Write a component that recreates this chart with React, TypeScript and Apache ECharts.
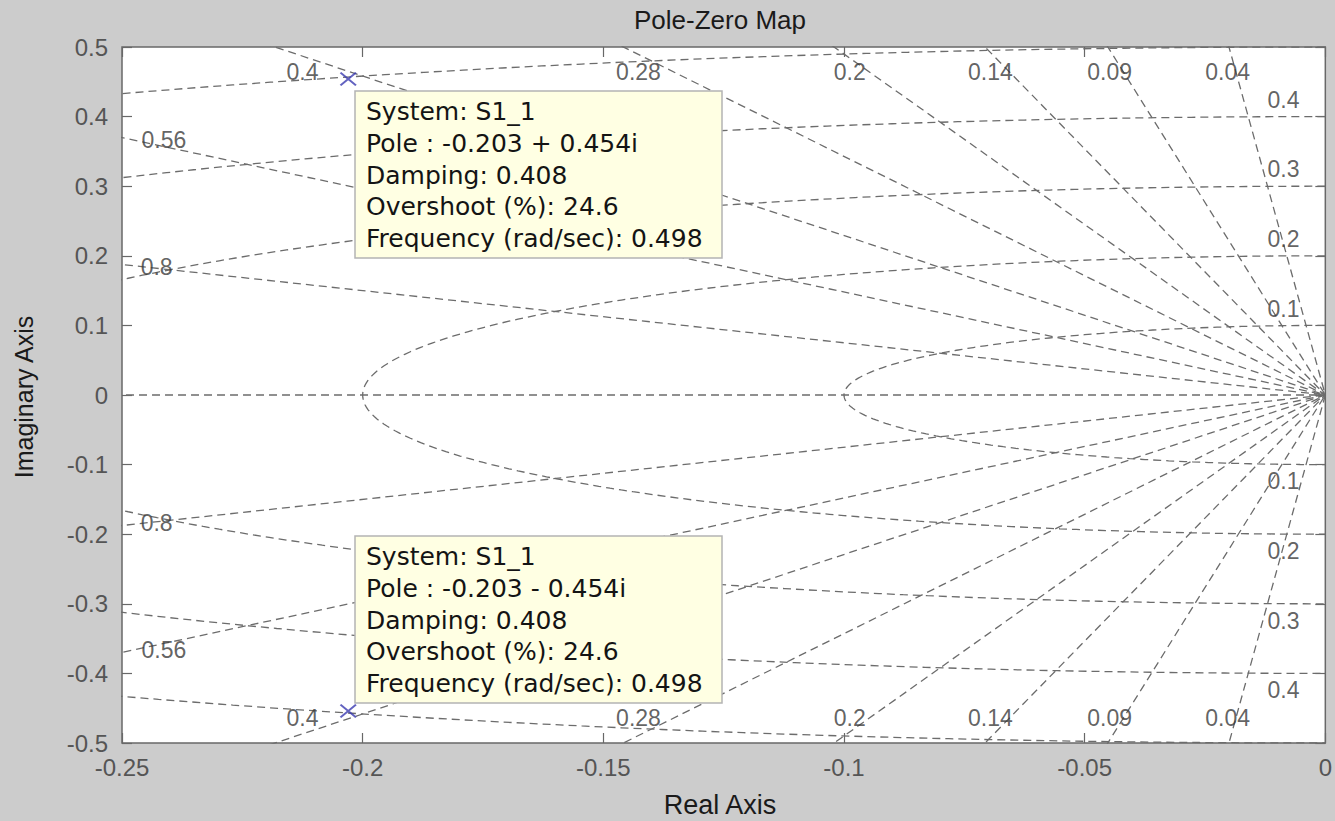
import React, { useEffect, useRef } from "react";
import * as echarts from "echarts";

// Axis ranges
const xRange = [-0.25, 0];
const xStep = 0.05;
const yRange = [-0.5, 0.5];
const yStep = 0.1;

// sgrid values
const dampingValues = [0.04, 0.09, 0.14, 0.2, 0.28, 0.4, 0.56, 0.8];
const wnValues = [0.1, 0.2, 0.3, 0.4, 0.5];

// Damping label placement (data coords, upper half; mirrored below)
const dampingLabelText = ["0.04", "0.09", "0.14", "0.2", "0.28", "0.4", "0.56", "0.8"];
const dampingLabelX = [-0.0203, -0.0448, -0.0696, -0.0988, -0.1427, -0.2125, -0.2413, -0.2428];
const dampingLabelY = [0.464, 0.464, 0.464, 0.464, 0.464, 0.464, 0.366, 0.184];

// Poles
const poleReal = [-0.203, -0.203];
const poleImag = [0.454, -0.454];

// Data tips
const tipUpper = [
  "System: S1_1",
  "Pole : -0.203 + 0.454i",
  "Damping: 0.408",
  "Overshoot (%): 24.6",
  "Frequency (rad/sec): 0.498",
];
const tipLower = [
  "System: S1_1",
  "Pole : -0.203 - 0.454i",
  "Damping: 0.408",
  "Overshoot (%): 24.6",
  "Frequency (rad/sec): 0.498",
];

const GRID_COLOR = "#6c6c6c";
const AXIS_COLOR = "#686868";

export default function App() {
  const ref = useRef<HTMLDivElement>(null);

  useEffect(() => {
    if (!ref.current) return;
    const chart = echarts.init(ref.current, undefined, { renderer: "svg" });

    const dashed = { color: GRID_COLOR, width: 1.3, type: [8, 5] as any };
    const lineBase = {
      type: "line" as const,
      showSymbol: false,
      symbol: "none",
      silent: true,
      clip: true,
      z: 2,
      lineStyle: dashed,
    };

    const series: any[] = [];

    // frequency circles (left half plane)
    wnValues.forEach((wn) => {
      const pts: number[][] = [];
      for (let d = 90; d <= 270; d += 1) {
        const t = (d * Math.PI) / 180;
        pts.push([wn * Math.cos(t), wn * Math.sin(t)]);
      }
      series.push({ ...lineBase, data: pts });
    });

    // damping rays
    dampingValues.forEach((z) => {
      const s = Math.sqrt(1 - z * z);
      series.push({ ...lineBase, data: [[-2 * z, 2 * s], [0, 0], [-2 * z, -2 * s]] });
    });
    // real axis (zeta = 1)
    series.push({ ...lineBase, data: [[-1, 0], [0, 0]] });

    // labels
    const labelData: any[] = [];
    dampingLabelText.forEach((t, i) => {
      labelData.push({ value: [dampingLabelX[i], dampingLabelY[i]], name: t });
      labelData.push({ value: [dampingLabelX[i], -dampingLabelY[i]], name: t });
    });
    wnValues.slice(0, 4).forEach((wn) => {
      labelData.push({ value: [-0.0087, wn + 0.024], name: String(wn) });
      labelData.push({ value: [-0.0087, -(wn + 0.024)], name: String(wn) });
    });
    series.push({
      type: "scatter",
      silent: true,
      z: 4,
      symbolSize: 1,
      itemStyle: { color: "rgba(0,0,0,0)" },
      label: {
        show: true,
        position: "inside",
        formatter: "{b}",
        fontFamily: "Liberation Sans",
        fontSize: 23,
        color: "#3a3a3a",
      },
      data: labelData,
    });

    // poles
    series.push({
      type: "scatter",
      silent: true,
      z: 5,
      symbol: "path://M0,0.9L0.9,0L10,9.1L9.1,10Z M9.1,0L10,0.9L0.9,10L0,9.1Z",
      symbolSize: [17, 14],
      itemStyle: { color: "#3b3bb0" },
      data: poleReal.map((r, i) => [r, poleImag[i]]),
    });

    const tickStyle = { color: AXIS_COLOR, width: 1.2 };
    const axisLabel = {
      fontFamily: "Liberation Sans",
      fontSize: 24,
      color: "#555555",
    };

    const tipBox = (top: number, lines: string[]) => ({
      type: "group",
      z: 100,
      children: [
        {
          type: "rect",
          shape: { x: 355, y: top, width: 367, height: 167 },
          style: { fill: "#ffffe3", stroke: "#b4b4b4", lineWidth: 1.5 },
          z: 100,
        },
        {
          type: "text",
          x: 366,
          y: top + 5,
          z: 101,
          style: {
            text: lines.join("\n"),
            font: "25px 'DejaVu Sans'",
            lineHeight: 31.7,
            fill: "#141414",
          },
        },
      ],
    });

    chart.setOption({
      animation: false,
      backgroundColor: "#cccccc",
      grid: {
        left: 122,
        right: 6,
        top: 47,
        bottom: 78,
        show: true,
        backgroundColor: "#ffffff",
        borderColor: AXIS_COLOR,
        borderWidth: 1.5,
      },
      xAxis: [
        {
          type: "value",
          min: xRange[0],
          max: xRange[1],
          interval: xStep,
          position: "bottom",
          axisLine: { show: false, onZero: false },
          axisTick: { show: true, inside: true, length: 10, lineStyle: tickStyle },
          splitLine: { show: false },
          axisLabel: { ...axisLabel, margin: 12 },
        },
        {
          type: "value",
          min: xRange[0],
          max: xRange[1],
          interval: xStep,
          position: "top",
          axisLine: { show: false, onZero: false },
          axisTick: { show: true, inside: true, length: 10, lineStyle: tickStyle },
          splitLine: { show: false },
          axisLabel: { show: false },
        },
      ],
      yAxis: [
        {
          type: "value",
          min: yRange[0],
          max: yRange[1],
          interval: yStep,
          position: "left",
          axisLine: { show: false, onZero: false },
          axisTick: { show: true, inside: true, length: 10, lineStyle: tickStyle },
          splitLine: { show: false },
          axisLabel: { ...axisLabel, margin: 14 },
        },
        {
          type: "value",
          min: yRange[0],
          max: yRange[1],
          interval: yStep,
          position: "right",
          axisLine: { show: false, onZero: false },
          axisTick: { show: true, inside: true, length: 10, lineStyle: tickStyle },
          splitLine: { show: false },
          axisLabel: { show: false },
        },
      ],
      series,
      graphic: [
        {
          type: "text",
          x: 720,
          y: 20,
          style: {
            text: "Pole-Zero Map",
            font: "26px 'Liberation Sans'",
            fill: "#1a1a1a",
            align: "center",
            verticalAlign: "middle",
          },
        },
        {
          type: "text",
          x: 720,
          y: 805,
          style: {
            text: "Real Axis",
            font: "27px 'Liberation Sans'",
            fill: "#1a1a1a",
            align: "center",
            verticalAlign: "middle",
          },
        },
        {
          type: "text",
          x: 24,
          y: 397,
          rotation: Math.PI / 2,
          style: {
            text: "Imaginary Axis",
            font: "25px 'Liberation Sans'",
            fill: "#1a1a1a",
            align: "center",
            verticalAlign: "middle",
          },
        },
        tipBox(91, tipUpper),
        tipBox(536, tipLower),
      ],
    });

    return () => chart.dispose();
  }, []);

  return (
    <div
      ref={ref}
      style={{ position: "fixed", left: 0, top: 0, width: 1335, height: 821, background: "#cccccc" }}
    />
  );
}
